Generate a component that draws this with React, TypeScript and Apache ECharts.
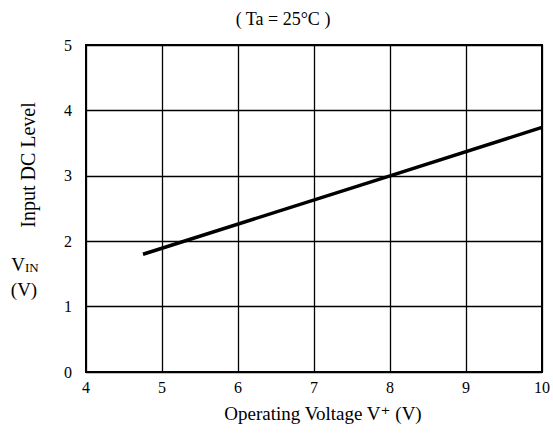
import React, { useEffect, useRef } from "react";
import * as echarts from "echarts";

const xTicks = [4, 5, 6, 7, 8, 9, 10];
const yTicks = [0, 1, 2, 3, 4, 5];
const lineData: [number, number][] = [
  [4.75, 1.8],
  [8, 3.0],
  [10, 3.74],
];
const titleText = "( Ta = 25°C )";
const xName = "Operating Voltage V⁺ (V)";
const yName = "Input DC Level";

const FONT = "'Liberation Serif', 'DejaVu Serif', serif";

export default function App() {
  const ref = useRef<HTMLDivElement>(null);
  useEffect(() => {
    if (!ref.current) return;
    const chart = echarts.init(ref.current, undefined, { renderer: "svg" });
    chart.setOption({
      animation: false,
      backgroundColor: "#fff",
      grid: {
        left: 86,
        right: 11,
        top: 45,
        bottom: 63,
        show: true,
        borderColor: "#000",
        borderWidth: 2,
      },
      xAxis: {
        type: "value",
        min: xTicks[0],
        max: xTicks[xTicks.length - 1],
        interval: 1,
        axisLine: { show: true, lineStyle: { color: "#000", width: 2 } },
        axisTick: { show: false },
        splitLine: { show: true, lineStyle: { color: "#000", width: 1.3 } },
        axisLabel: { color: "#000", fontFamily: FONT, fontSize: 16, margin: 7 },
      },
      yAxis: {
        type: "value",
        min: yTicks[0],
        max: yTicks[yTicks.length - 1],
        interval: 1,
        axisLine: { show: true, lineStyle: { color: "#000", width: 2 } },
        axisTick: { show: false },
        splitLine: { show: true, lineStyle: { color: "#000", width: 1.3 } },
        axisLabel: { color: "#000", fontFamily: FONT, fontSize: 16, margin: 14 },
      },
      series: [
        {
          type: "line",
          data: lineData,
          symbol: "none",
          lineStyle: { color: "#000", width: 3.5 },
        },
      ],
      graphic: [
        {
          type: "text",
          x: 283,
          y: 19,
          style: {
            text: titleText,
            fill: "#000",
            font: `18px ${FONT}`,
            align: "center",
            verticalAlign: "middle",
          },
        },
        {
          type: "text",
          x: 323,
          y: 413,
          style: {
            text: xName,
            fill: "#000",
            font: `19px ${FONT}`,
            align: "center",
            verticalAlign: "middle",
          },
        },
        {
          type: "text",
          x: 28,
          y: 165,
          rotation: Math.PI / 2,
          style: {
            text: yName,
            fill: "#000",
            font: `20px ${FONT}`,
            align: "center",
            verticalAlign: "middle",
          },
        },
        {
          type: "text",
          x: 25,
          y: 264,
          style: {
            text: "{v|V}{s|IN}",
            fill: "#000",
            align: "center",
            verticalAlign: "middle",
            rich: {
              v: { font: `19px ${FONT}`, fill: "#000" },
              s: { font: `13px ${FONT}`, fill: "#000", padding: [7, 0, 0, 0] },
            },
          },
        },
        {
          type: "text",
          x: 24,
          y: 289,
          style: {
            text: "(V)",
            fill: "#000",
            font: `19px ${FONT}`,
            align: "center",
            verticalAlign: "middle",
          },
        },
      ],
    });
    return () => chart.dispose();
  }, []);
  return <div ref={ref} style={{ width: 553, height: 435, position: "absolute", left: 0, top: 0 }} />;
}
